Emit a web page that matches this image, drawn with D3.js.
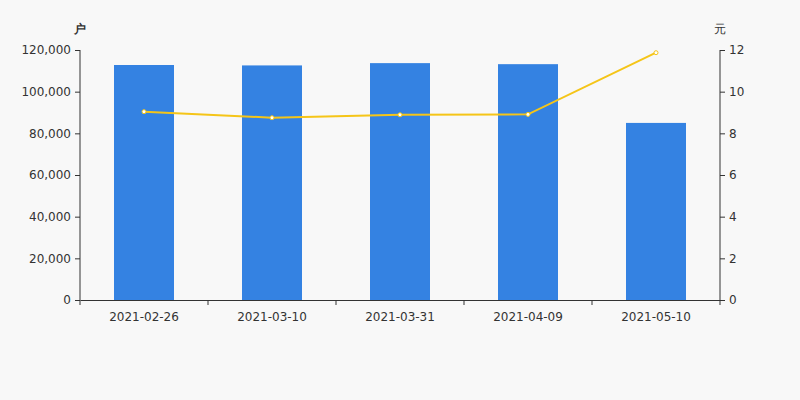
<!DOCTYPE html>
<head>
  <meta charset="utf-8">
  <script src="https://unpkg.com/d3@7/dist/d3.min.js"></script>
  <style>
    body { margin:0; background:#f8f8f8; }
    text { font-family: "DejaVu Sans", sans-serif; }
  </style>
</head>
<body>
  <svg width="800" height="400"></svg>
  <script>
    var dates = ["2021-02-26", "2021-03-10", "2021-03-31", "2021-04-09", "2021-05-10"];
    var holders = [112800, 112600, 113700, 113200, 85000];
    var prices = [9.04, 8.75, 8.89, 8.91, 11.87];
    var leftTicks = [0, 20000, 40000, 60000, 80000, 100000, 120000];
    var rightTicks = [0, 2, 4, 6, 8, 10, 12];

    var svg = d3.select("svg"),
        mLeft = 80, mRight = 720, mTop = 50, mBottom = 300;

    svg.append("rect").attr("width", 800).attr("height", 400).attr("fill", "#f8f8f8");

    var x = d3.scaleBand().domain(dates).range([mLeft, mRight]);
    var yL = d3.scaleLinear().domain([0, 120000]).range([mBottom, mTop]);
    var yR = d3.scaleLinear().domain([0, 12]).range([mBottom, mTop]);

    var barW = 60;

    // bars
    svg.selectAll("rect.bar")
      .data(dates)
      .enter().append("rect")
        .attr("class", "bar")
        .attr("x", function (d) { return x(d) + x.bandwidth()/2 - barW/2; })
        .attr("y", function (d, i) { return yL(holders[i]); })
        .attr("width", barW)
        .attr("height", function (d, i) { return mBottom - yL(holders[i]); })
        .attr("fill", "#3482e2");

    // axes
    var fmt = d3.format(",");
    var gl = svg.append("g").attr("transform", "translate(" + mLeft + ",0)")
      .call(d3.axisLeft(yL).tickValues(leftTicks).tickFormat(fmt).tickSize(5).tickPadding(4));
    var gr = svg.append("g").attr("transform", "translate(" + mRight + ",0)")
      .call(d3.axisRight(yR).tickValues(rightTicks).tickSize(5).tickPadding(4));
    var gb = svg.append("g").attr("transform", "translate(0," + mBottom + ")")
      .call(d3.axisBottom(x).tickSize(0).tickPadding(12));

    // bottom ticks between categories
    var bounds = dates.map(function (d) { return x(d); }).concat([mRight]);
    gb.selectAll("line.sep")
      .data(bounds)
      .enter().append("line")
        .attr("class", "sep")
        .attr("x1", function (d) { return d; })
        .attr("x2", function (d) { return d; })
        .attr("y1", 0).attr("y2", 5)
        .attr("stroke", "#333");

    [gl, gr, gb].forEach(function (g) {
      g.select(".domain").attr("stroke", "#333");
      g.selectAll(".tick line").attr("stroke", "#333");
      g.selectAll("text").attr("fill", "#333").attr("font-size", 12)
        .style("font-family", "DejaVu Sans, sans-serif");
    });
    gl.select(".domain").attr("d", "M0," + mTop + "V" + mBottom);
    gr.select(".domain").attr("d", "M0," + mTop + "V" + mBottom);

    // unit labels
    svg.append("text").attr("x", 80).attr("y", 33).attr("text-anchor", "middle")
      .attr("font-size", 12).attr("fill", "#333").attr("font-weight", "bold").text("户");
    svg.append("text").attr("x", 720).attr("y", 33).attr("text-anchor", "middle")
      .attr("font-size", 12).attr("fill", "#333").text("元");

    // price line
    var line = d3.line()
      .x(function (d, i) { return x(dates[i]) + x.bandwidth()/2; })
      .y(function (d) { return yR(d); });
    svg.append("path").datum(prices)
      .attr("d", line)
      .attr("fill", "none")
      .attr("stroke", "#f5c518")
      .attr("stroke-width", 2);
    svg.selectAll("circle.pt")
      .data(prices)
      .enter().append("circle")
        .attr("class", "pt")
        .attr("cx", function (d, i) { return x(dates[i]) + x.bandwidth()/2; })
        .attr("cy", function (d) { return yR(d); })
        .attr("r", 2)
        .attr("fill", "#fff")
        .attr("stroke", "#f5c518")
        .attr("stroke-width", 1);
  </script>
</body>
